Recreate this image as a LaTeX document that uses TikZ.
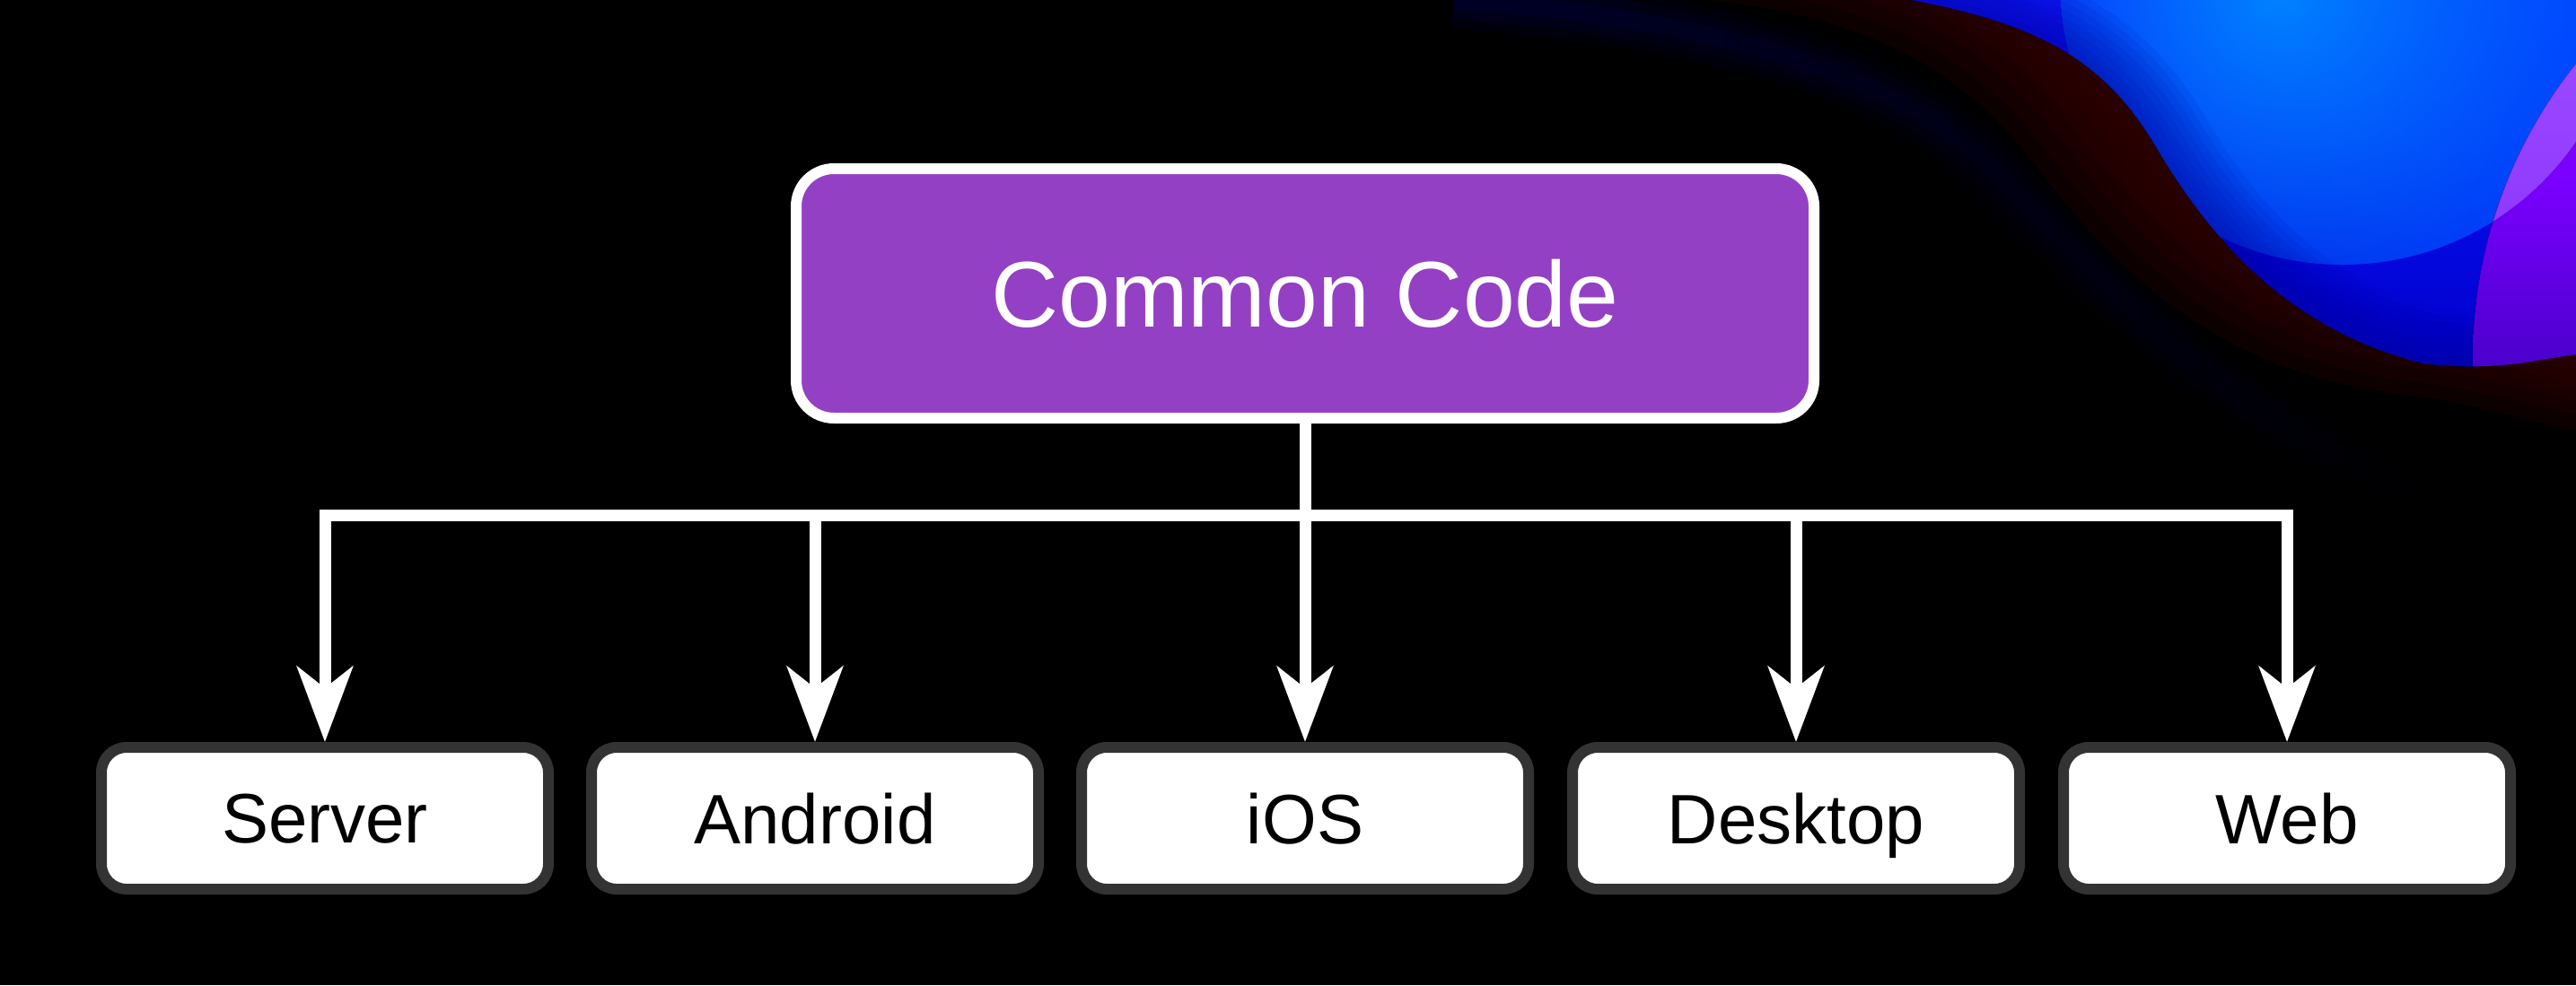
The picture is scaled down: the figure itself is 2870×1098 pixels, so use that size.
\documentclass[tikz,border=0pt]{standalone}
\usepackage{fontspec}
\setmainfont{Liberation Sans}
\usetikzlibrary{arrows.meta,fadings}
\definecolor{ccpurple}{RGB}{148,64,196}
\definecolor{boxgrey}{RGB}{51,51,51}
\definecolor{shadowred}{RGB}{56,0,0}
\definecolor{navyglow}{RGB}{0,0,80}
\definecolor{blobtop}{RGB}{14,24,255}
\definecolor{blobbot}{RGB}{0,0,205}
\definecolor{blobedge}{RGB}{0,0,150}
\definecolor{lightbase}{RGB}{0,62,255}
\definecolor{lightspot}{RGB}{0,130,255}
\definecolor{violettop}{RGB}{122,0,255}
\definecolor{violetbot}{RGB}{72,0,200}
\definecolor{lilactop}{RGB}{160,80,255}
\definecolor{lilacbot}{RGB}{140,52,255}
\tikzfading[name=spotfade, inner color=transparent!0, outer color=transparent!100]
\tikzfading[name=lightfade, left color=transparent!100, middle color=transparent!0, right color=transparent!0]
\tikzfading[name=navyfade, left color=transparent!50, middle color=transparent!0, right color=transparent!100]
\begin{document}
\begin{tikzpicture}[x=0.1mm,y=-0.1mm,
  blobpath/.style={insert path={(2130,0) .. controls (2260,25) and (2340,60) .. (2400,160) .. controls (2470,280) and (2560,370) .. (2700,405) .. controls (2780,415) and (2830,400) .. (2870,395) -- (2950,395) -- (2950,-50) -- (2130,-50) -- cycle}},
  blobedgepath/.style={insert path={(2130,0) .. controls (2260,25) and (2340,60) .. (2400,160) .. controls (2470,280) and (2560,370) .. (2700,405) .. controls (2780,415) and (2830,400) .. (2870,395)}},
  redpath/.style={insert path={(1900,0) .. controls (2100,20) and (2200,90) .. (2280,200) .. controls (2380,330) and (2500,420) .. (2680,440) .. controls (2760,450) and (2820,470) .. (2870,480) -- (3000,480) -- (3000,-150) -- (1900,-150) -- cycle}},
  navypath/.style={insert path={(1620,0) .. controls (1900,20) and (2100,80) .. (2200,170) .. controls (2320,280) and (2440,460) .. (2740,560)}},
  main/.style={draw=white, line width=1.2mm, fill=ccpurple, rounded corners=4.2mm,
    minimum width=113.4mm, minimum height=27.8mm, inner sep=0pt, text=white,
    font=\fontsize{29.6pt}{34pt}\selectfont, text depth=0pt},
  target/.style={draw=boxgrey, line width=1.2mm, fill=white, rounded corners=2.8mm,
    minimum width=49.8mm, minimum height=15.8mm, inner sep=0pt, text=black,
    font=\fontsize{22.2pt}{26pt}\selectfont, text depth=0pt},
  link/.style={draw=white, line width=1.3mm},
  conn/.style={link, -{Stealth[length=8.4mm,width=6.2mm,inset=2.4mm]}}
]
\useasboundingbox (0,0) rectangle (2870,1098);
\clip (0,0) rectangle (2870,1098);
\fill[black] (0,0) rectangle (2870,1098);

% soft red shadow along the blob
\foreach \k in {0,...,5}
  \fill[shadowred, opacity=0.22, shift={(\k*14,-\k*14)}] [redpath];
% faint navy glow band
\foreach \w/\o in {64/0.35, 42/0.4, 20/0.5}
  \draw[navyglow, line width=\w*0.1mm, opacity=\o, path fading=navyfade] [navypath];

% blue blob
\begin{scope}
  \clip[blobpath];
  \fill[top color=blobtop, bottom color=blobbot] (2050,-20) rectangle (2950,420);
  \fill[lightbase, path fading=lightfade] (2610,-20) circle (315);
  \begin{scope}
    \clip (2610,-20) circle (315);
    \fill[lightspot, path fading=spotfade] (2540,-10) circle (420);
  \end{scope}
  \foreach \w in {16,32,...,128}
    \draw[blobedge, opacity=0.08, line width=\w*0.1mm] [blobedgepath];
\end{scope}
% violet disc
\begin{scope}
  \clip[blobpath];
  \clip (3283,400) circle (528);
  \fill[top color=violettop, bottom color=violetbot] (2700,200) rectangle (2950,420);
  \fill[violettop] (2700,-20) rectangle (2950,200);
  \clip (2610,-20) circle (315);
  \fill[top color=lilactop, bottom color=lilacbot] (2700,-20) rectangle (2950,300);
\end{scope}

% nodes
\node[main] (cc) at (1454,327) {Common Code};
\node[target] (s) at (362,912) {Server};
\node[target] (a) at (908,912) {Android};
\node[target] (i) at (1454,912) {iOS};
\node[target] (d) at (2001,912) {Desktop};
\node[target] (w) at (2548,912) {Web};
\coordinate (bar) at (1454,574);

% connectors
\draw[link] (cc.south) -- (cc.south |- bar);
\foreach \t in {s,a,d,w}
  \draw[conn] (cc.south |- bar) -| (\t.north);
\draw[conn] (cc.south) -- (i.north);
\end{tikzpicture}
\end{document}
